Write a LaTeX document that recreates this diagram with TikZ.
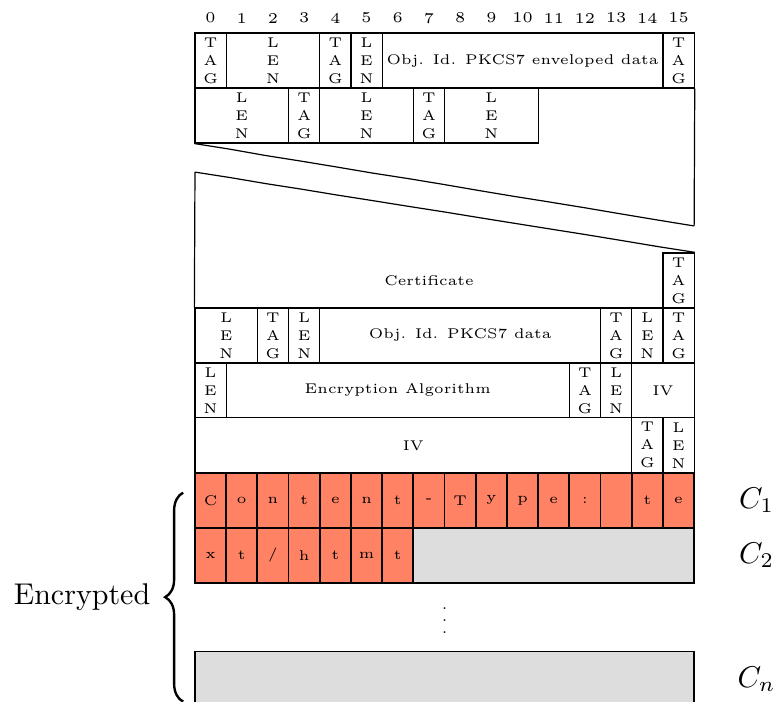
\documentclass[tikz,border=0pt]{standalone}
\usetikzlibrary{decorations.pathmorphing,decorations.pathreplacing}
\definecolor{cipherred}{RGB}{255,130,100}
\definecolor{padgray}{RGB}{221,221,221}
\tikzset{
  field/.style={rectangle, draw, line width=0.4pt, inner sep=0pt, align=center, minimum height=18.33pt, font=\fontsize{4.7}{6}\selectfont},
  cipher/.style={field, fill=cipherred, line width=0.6pt, minimum width=10.4pt},
  pad/.style={field, fill=padgray, line width=0.6pt},
  colnum/.style={font=\tiny, inner sep=0pt},
  cut/.style={decorate, decoration={random steps, segment length=12pt, amplitude=0.08pt}},
  blocklabel/.style={inner sep=0pt}
}
\newcommand{\tagtxt}{T\\A\\G}
\newcommand{\lentxt}{L\\E\\N}
% name, first column, columns, row top, text
\newcommand{\pktfield}[5]{\node[field, minimum width=#3*10.4pt] (#1) at ({#2+#3/2},{#4-0.5}) {#5};}

\begin{document}
\begin{tikzpicture}[x=10.4pt, y=18.33pt]
  \useasboundingbox (-6.25,0.6) rectangle (18.72,-12.164);

  % column numbers
  \foreach \c in {0,...,15}
    \node[colnum] (col\c) at (\c+0.5,0.27) {\c};

  % ContentInfo header
  \pktfield{taga}{0}{1}{0}{\tagtxt}
  \pktfield{lena}{1}{3}{0}{\lentxt}
  \pktfield{tagb}{4}{1}{0}{\tagtxt}
  \pktfield{lenb}{5}{1}{0}{\lentxt}
  \pktfield{oidenv}{6}{9}{0}{Obj. Id. PKCS7 enveloped data}
  \pktfield{tagc}{15}{1}{0}{\tagtxt}
  \pktfield{lenc}{0}{3}{-1}{\lentxt}
  \pktfield{tagd}{3}{1}{-1}{\tagtxt}
  \pktfield{lend}{4}{3}{-1}{\lentxt}
  \pktfield{tage}{7}{1}{-1}{\tagtxt}
  \pktfield{lene}{8}{3}{-1}{\lentxt}

  % cut through the recipient infos
  \coordinate (cutr) at (16,-3.51);
  \coordinate (cutl) at (0,-2.53);
  \draw[line width=0.4pt] (tagc.south east) -- (cutr);
  \draw[cut, line width=0.4pt] (lenc.south west) -- (cutr);

  % certificate and content
  \pktfield{tagf}{15}{1}{-4}{\tagtxt}
  \draw[cut, line width=0.4pt] (cutl) -- (tagf.north east);
  \node[blocklabel, font=\fontsize{4.7}{6}\selectfont] (cert) at (7.5,-4.5) {Certificate};
  \pktfield{lenf}{0}{2}{-5}{\lentxt}
  \pktfield{tagg}{2}{1}{-5}{\tagtxt}
  \pktfield{leng}{3}{1}{-5}{\lentxt}
  \pktfield{oiddata}{4}{9}{-5}{Obj. Id. PKCS7 data}
  \pktfield{tagh}{13}{1}{-5}{\tagtxt}
  \pktfield{lenh}{14}{1}{-5}{\lentxt}
  \pktfield{tagi}{15}{1}{-5}{\tagtxt}
  \draw[line width=0.4pt] (cutl) -- (lenf.north west);
  \pktfield{leni}{0}{1}{-6}{\lentxt}
  \pktfield{encalg}{1}{11}{-6}{Encryption Algorithm}
  \pktfield{tagj}{12}{1}{-6}{\tagtxt}
  \pktfield{lenj}{13}{1}{-6}{\lentxt}
  \pktfield{iva}{14}{2}{-6}{IV}
  \pktfield{ivb}{0}{14}{-7}{IV}
  \pktfield{tagk}{14}{1}{-7}{\tagtxt}
  \pktfield{lenk}{15}{1}{-7}{\lentxt}

  % encrypted blocks
  \foreach \ch [count=\i from 0] in {C,o,n,t,e,n,t,-,T,y,p,e,:,{},t,e}
    \node[cipher] (ca\i) at (\i+0.5,-8.5) {\ch};
  \foreach \ch [count=\i from 0] in {x,t,/,h,t,m,t}
    \node[cipher] (cb\i) at (\i+0.5,-9.5) {\ch};
  \node[pad, minimum width=9*10.4pt] (padb) at (11.5,-9.5) {};
  \node[colnum] (dots) at (8,-10.52) {$\vdots$};
  \node[pad, minimum width=16*10.4pt] (padn) at (8,-11.75) {};

  \node (cone) at (18,-8.5) {$C_1$};
  \node (ctwo) at (18,-9.5) {$C_2$};
  \node (cn) at (18,-11.75) {$C_n$};

  \coordinate (bbot) at (-0.38,-12.16);
  \coordinate (btop) at (-0.38,-8.36);
  \draw[decorate, decoration={brace, amplitude=6pt}, line width=0.8pt] (bbot) -- (btop);
  \node[anchor=base] (enc) at (-3.62,-10.4) {Encrypted};
\end{tikzpicture}
\end{document}
